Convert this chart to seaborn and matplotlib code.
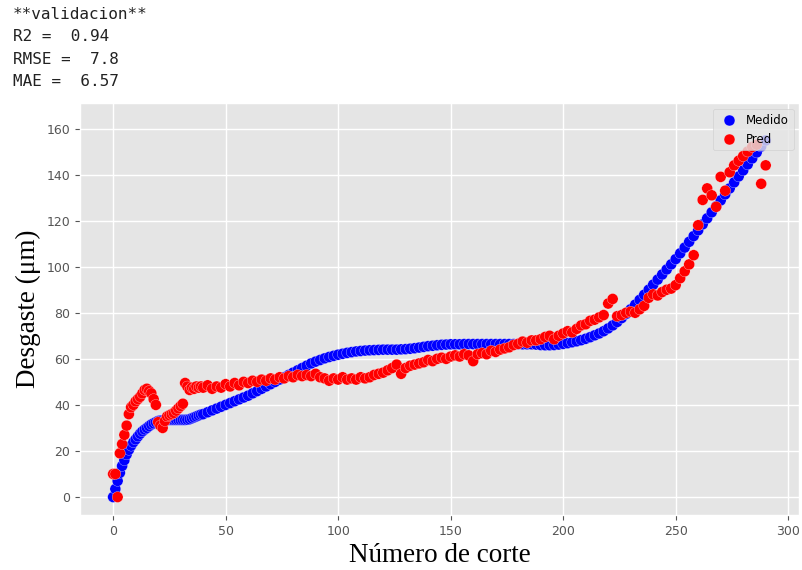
import numpy as np
import pandas as pd
import matplotlib
matplotlib.use("Agg")
import matplotlib.pyplot as plt
import seaborn as sns

# numero de corte: cada corte hasta 39, luego cada 2
cortes = list(range(0, 40)) + list(range(40, 291, 2))

medido = [
    0, 3.5, 7, 10.5, 13.5, 16, 18.5, 20.5, 22.3, 23.8,
    25, 26.3, 27.5, 28.5, 29.3, 30, 30.8, 31.5, 32, 32.5,
    33, 33.2, 33.3, 33.4, 33.4, 33.5, 33.5, 33.5, 33.5, 33.5,
    33.5, 33.5, 33.5, 33.6, 33.8, 34.2, 34.6, 35, 35.4, 35.8,
    # 40..290 cada 2
    36, 36.8, 37.6, 38.4, 39.2, 40, 40.8, 41.6, 42.4, 43.2,
    44, 45, 46, 47, 48, 49, 50, 51, 52, 53,
    54, 55, 56, 57, 58, 58.8, 59.5, 60.2, 60.8, 61.3,
    61.8, 62.2, 62.6, 62.9, 63.2, 63.4, 63.6, 63.7, 63.8, 63.9,
    64, 64, 64, 64, 64.1, 64.2, 64.4, 64.6, 64.9, 65.2,
    65.5, 65.7, 65.9, 66.1, 66.2, 66.3, 66.3, 66.3, 66.4, 66.4,
    66.4, 66.4, 66.4, 66.4, 66.4, 66.4, 66.4, 66.4, 66.4, 66.4,
    66.4, 66.3, 66.3, 66.3,
    66.2, 66.0, 65.9, 65.9, 66.0, 66.2, 66.5, 66.8, 67.2, 67.6,
    68.1, 68.7, 69.4, 70.2, 71, 72, 73.2, 74.5, 76, 77.7,
    79.5, 81.5, 83.5, 85.6, 87.8, 90, 92.2, 94.4, 96.6, 98.8,
    101, 103.3, 105.8, 108.3, 110.8, 113.3, 115.8, 118.4, 121, 123.6,
    126.2, 128.8, 131.4, 134, 136.6, 139.2, 141.8, 144.4, 147, 149.6,
    152.2, 154.8,
]

pred = [
    10, 10, 0, 19, 23, 27, 31, 36, 39, 40,
    41.5, 42.5, 43.5, 45, 46.5, 47, 46, 45, 42.5, 40,
    32.5, 31, 30, 33, 35, 35.5, 36, 36.5, 37.5, 38.5,
    39.5, 40.5, 49.5, 48, 46.5, 47.5, 47, 48, 47.5, 48,
    # 40..290 cada 2
    47.5, 48.5, 47, 48, 47.5, 49, 48, 49.5, 48.5, 50,
    49.5, 50.5, 50, 51, 50.5, 51.5, 51, 52, 51.5, 52.5,
    52, 53, 52.5, 53, 52.5, 53.5, 52, 51.5, 50.5, 51.5,
    51, 52, 51, 51.5, 51, 52, 51.5, 52, 53, 53.5,
    54, 55, 56, 57.5, 53.5, 56, 57, 57.5, 58, 58.5,
    59.5, 59, 60, 60.5, 60, 61, 61.5, 61, 62, 61.5,
    59, 62, 62.5, 62, 63.5, 63, 64, 64.5, 65, 66,
    66.5, 67.5, 67, 68, 68, 68.5, 69.5, 70, 68.5, 70,
    71, 72, 71.5, 73, 74.5, 75, 76.5, 77, 78, 79,
    84, 86, 78.5, 79, 80, 80.5, 80, 81.5, 83, 86.5,
    88, 87.5, 89, 90, 90.5, 92, 95, 98, 101, 105,
    118, 129, 134, 131, 126, 139, 133, 141, 144, 146,
    148, 150, 152, 153, 136, 144,
]

texto_metricas = ["**validacion**", "R2 =  0.94", "RMSE =  7.8", "MAE =  6.57"]

df = pd.concat([
    pd.DataFrame({"corte": cortes, "desgaste": medido, "serie": "Medido"}),
    pd.DataFrame({"corte": cortes, "desgaste": pred, "serie": "Pred"}),
], ignore_index=True)

plt.style.use("ggplot")
fig = plt.figure(figsize=(8.02, 5.70), dpi=100)
ax = fig.add_axes([0.0998, 0.0965, 0.897, 0.7225])

sns.scatterplot(
    data=df, x="corte", y="desgaste", hue="serie",
    palette={"Medido": "#0000ff", "Pred": "#ff0000"},
    s=62, linewidth=0.2, edgecolor="white", ax=ax,
)

ax.set_xlim(-14.7, 305)
ax.set_ylim(-7.8, 171)
ax.set_xticks(range(0, 301, 50))
ax.set_yticks(range(0, 161, 20))
ax.tick_params(labelsize=9, colors="#555555")
ax.grid(True, color="white", linewidth=1)

ax.set_xlabel("Número de corte", family="Liberation Serif", fontsize=19.5, color="black")
ax.set_ylabel("Desgaste (μm)", family="Liberation Serif", fontsize=19.5, color="black")

handles, labels = ax.get_legend_handles_labels()
ax.legend(handles, labels, loc="upper right", fontsize=8.5, framealpha=0.8,
          handletextpad=0.4, borderpad=0.4)

for i, linea in enumerate(texto_metricas):
    fig.text(0.016, 0.975 - i * 0.0395, linea, family="DejaVu Sans Mono",
             fontsize=11.5, color="#222222", va="center")

fig.savefig("out.png", dpi=100)
